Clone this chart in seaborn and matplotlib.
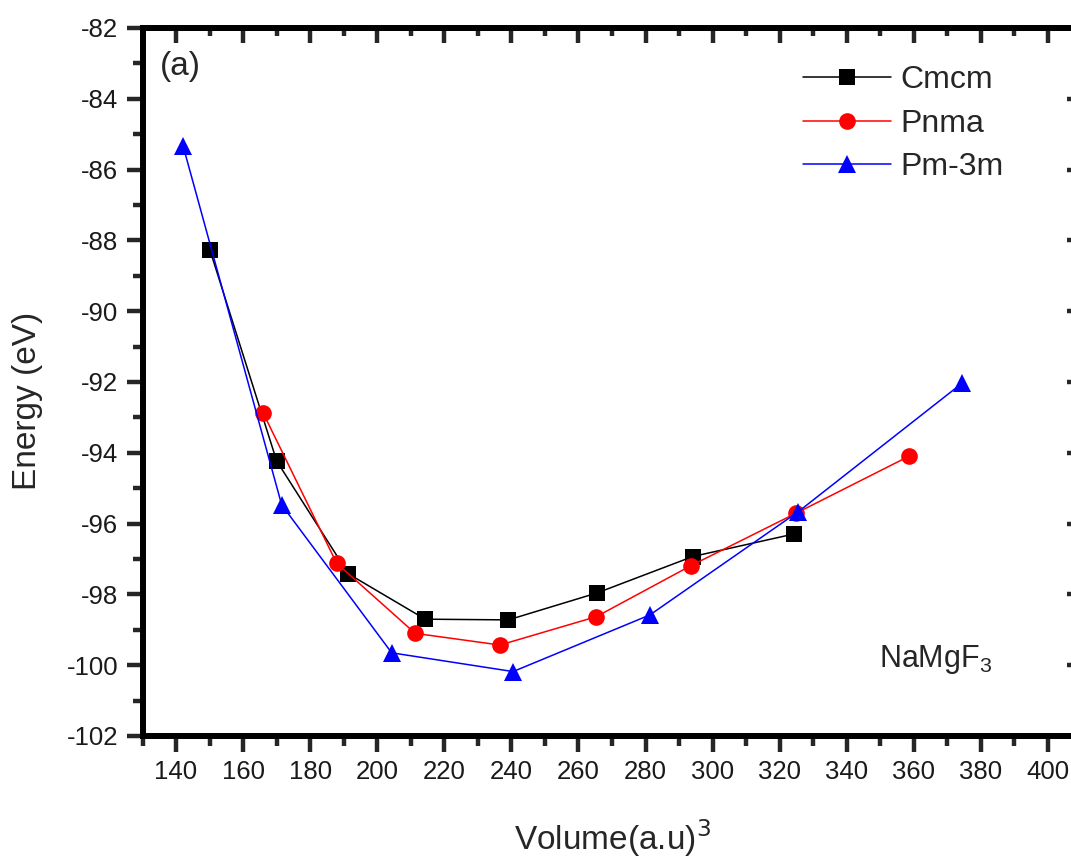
import matplotlib
matplotlib.use("Agg")
import matplotlib.pyplot as plt
import seaborn as sns
import pandas as pd
from matplotlib.ticker import MultipleLocator

# ---- data ----
cmcm_vol = [150.1, 170.0, 191.4, 214.3, 239.1, 265.5, 294.1, 324.4]
cmcm_en = [-88.27, -94.23, -97.42, -98.70, -98.72, -97.96, -96.93, -96.29]

pnma_vol = [166.0, 187.9, 211.3, 236.6, 265.3, 293.5, 324.8, 358.7]
pnma_en = [-92.88, -97.12, -99.10, -99.43, -98.63, -97.19, -95.71, -94.09]

pm3m_vol = [142.1, 171.5, 204.3, 240.5, 281.3, 325.6, 374.3]
pm3m_en = [-85.33, -95.47, -99.65, -100.18, -98.58, -95.66, -92.04]

series_names = ["Cmcm", "Pnma", "Pm-3m"]
x_ticks = [140, 160, 180, 200, 220, 240, 260, 280, 300, 320, 340, 360, 380, 400]
y_ticks = [-102, -100, -98, -96, -94, -92, -90, -88, -86, -84, -82]

sns.set_style("ticks")
plt.rcParams["font.family"] = ["Liberation Sans", "DejaVu Sans"]
plt.rcParams["mathtext.fontset"] = "custom"
plt.rcParams["mathtext.rm"] = "Liberation Sans"
plt.rcParams["mathtext.it"] = "Liberation Sans:italic"
plt.rcParams["mathtext.default"] = "regular"
plt.rcParams["axes.unicode_minus"] = False

fig = plt.figure(figsize=(10.71, 8.57), dpi=100)
ax = fig.add_axes([142.5 / 1071, 1 - 736 / 857, (1081.5 - 142.5) / 1071, (736 - 28) / 857])

styles = [
    (cmcm_vol, cmcm_en, series_names[0], "black", "s", 11.5),
    (pnma_vol, pnma_en, series_names[1], "red", "o", 12),
    (pm3m_vol, pm3m_en, series_names[2], "blue", "^", 13.5),
]
for vol, en, name, col, mk, ms in styles:
    df = pd.DataFrame({"Volume": vol, "Energy": en})
    sns.lineplot(data=df, x="Volume", y="Energy", ax=ax, color=col, marker=mk,
                 markersize=ms, markeredgewidth=0, linewidth=1.1, sort=False,
                 label=name, estimator=None)

ax.set_xlim(130, 410)
ax.set_ylim(-102, -82)
ax.set_xticks(x_ticks)
ax.set_yticks(y_ticks)
ax.xaxis.set_minor_locator(MultipleLocator(10))
ax.yaxis.set_minor_locator(MultipleLocator(1))

for s in ax.spines.values():
    s.set_visible(True)
    s.set_linewidth(4.3)
    s.set_color("black")

ax.tick_params(axis="both", which="major", direction="out", length=11.5, width=3.2,
               labelsize=18.5, labelcolor="#1a1a1a", pad=6)
ax.tick_params(axis="both", which="minor", direction="out", length=7, width=3.2)

top = ax.secondary_xaxis("top")
top.set_xticks(x_ticks)
top.xaxis.set_minor_locator(MultipleLocator(10))
top.tick_params(which="major", direction="in", length=11, width=3.2, labeltop=False)
top.tick_params(which="minor", direction="in", length=6, width=3.2)
top.spines["top"].set_linewidth(4.3)

right = ax.secondary_yaxis("right")
right.set_yticks(y_ticks)
right.yaxis.set_minor_locator(MultipleLocator(1))
right.tick_params(which="major", direction="in", length=11, width=3.2, labelright=False)
right.tick_params(which="minor", direction="in", length=6, width=3.2)

ax.set_xlabel("Volume(a.u)$^{\\mathsf{3}}$", fontsize=24, labelpad=24)
ax.set_ylabel("Energy (eV)", fontsize=24, labelpad=14)
ax.yaxis.set_label_coords(-0.106, 0.473)

ax.text(0.018, 0.968, "(a)", transform=ax.transAxes, fontsize=24, va="top", ha="left")
ax.text(0.784, 0.085, "NaMgF$_3$", transform=ax.transAxes, fontsize=22, va="bottom", ha="left")

leg = ax.legend(loc="upper left", bbox_to_anchor=(803 / 1071, 1 - 65 / 857),
                bbox_transform=fig.transFigure, frameon=False, fontsize=23,
                handlelength=2.75, handletextpad=0.3, labelspacing=0.43,
                borderpad=0, borderaxespad=0)

fig.savefig("out.png", dpi=100)
